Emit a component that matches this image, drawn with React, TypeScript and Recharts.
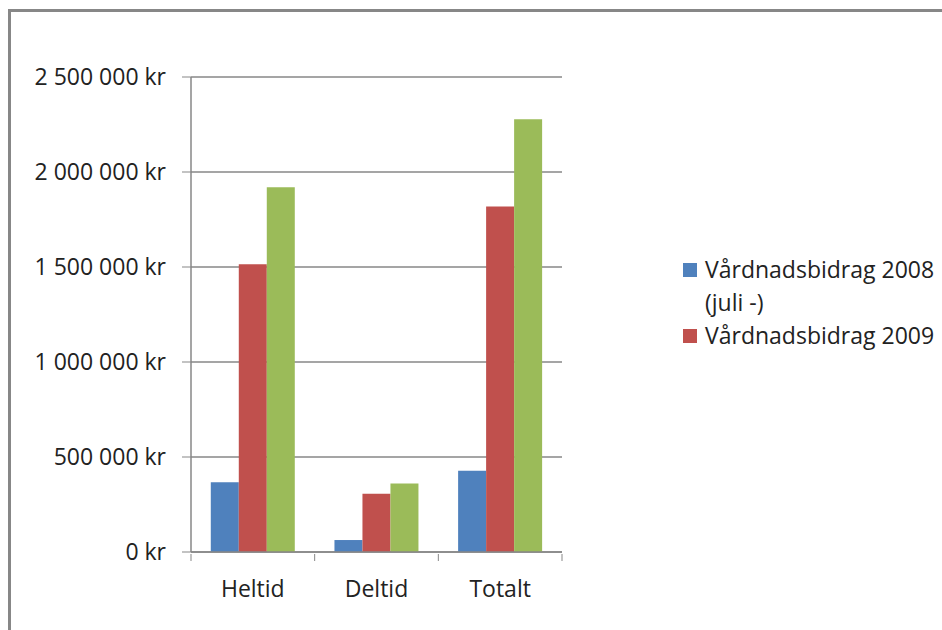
import { Bar, BarChart, CartesianGrid, XAxis, YAxis } from "recharts";

// Vårdnadsbidrag per kategori (kr)
const categories = ["Heltid", "Deltid", "Totalt"];
const bidrag2008 = [367000, 63000, 427000];
const bidrag2009 = [1514000, 306000, 1818000];
const bidrag2010 = [1920000, 360000, 2278000];
const yTicks = [0, 500000, 1000000, 1500000, 2000000, 2500000];

const seriesNames = ["Vårdnadsbidrag 2008 (juli -)", "Vårdnadsbidrag 2009", "Vårdnadsbidrag 2010"];
const seriesColors = ["#4F81BD", "#C0504D", "#9BBB59"];
// only the first two series are visible in the original legend
const legendCount = 2;

const data = categories.map((name, i) => ({
  name,
  s2008: bidrag2008[i],
  s2009: bidrag2009[i],
  s2010: bidrag2010[i],
}));

const FONT = "'Open Sans', sans-serif";
const TEXT = "#222";
const AXIS = "#878787";
const PLOT_W = 942 - 191 - 380;
const BAND = PLOT_W / categories.length;

const formatKr = (v: number) =>
  `${String(v).replace(/\B(?=(\d{3})+(?!\d))/g, " ")} kr`;

const CategoryTick = (props: any) => {
  const { x, y, payload, index } = props;
  const left = x - BAND / 2;
  return (
    <g>
      <line x1={left} y1={y - 8} x2={left} y2={y - 1} stroke={AXIS} />
      {index === categories.length - 1 && (
        <line x1={x + BAND / 2} y1={y - 8} x2={x + BAND / 2} y2={y - 1} stroke={AXIS} />
      )}
      <text x={x} y={y + 35} textAnchor="middle" fontFamily={FONT} fontSize={23} fill={TEXT}>
        {payload.value}
      </text>
    </g>
  );
};

const LegendBox = () => (
  <div
    style={{
      position: "absolute",
      left: 683,
      top: 253,
      fontFamily: FONT,
      fontSize: 23,
      color: TEXT,
      lineHeight: "33px",
    }}
  >
    {seriesNames.slice(0, legendCount).map((name, i) => (
      <div key={name} style={{ display: "flex", alignItems: "flex-start" }}>
        <span
          style={{
            width: 14,
            height: 14,
            marginTop: 10,
            marginRight: 8,
            background: seriesColors[i],
            flexShrink: 0,
          }}
        />
        <span style={{ width: 237 }}>{name}</span>
      </div>
    ))}
  </div>
);

export default function App() {
  return (
    <div style={{ position: "absolute", left: 0, top: 0, width: 942, height: 630, background: "#fff", overflow: "hidden" }}>
      <div
        style={{
          position: "absolute",
          left: 8,
          top: 9,
          width: 960,
          height: 660,
          borderLeft: `3px solid ${AXIS}`,
          borderTop: `3px solid ${AXIS}`,
        }}
      />
      <div style={{ position: "absolute", left: 0, top: 0 }}>
        <BarChart
          width={942}
          height={630}
          data={data}
          margin={{ top: 77, right: 380, bottom: 0, left: 0 }}
          barCategoryGap="16%"
          barGap={0}
        >
          <CartesianGrid vertical={false} stroke={AXIS} strokeWidth={1.5} />
          <XAxis
            dataKey="name"
            height={78}
            axisLine={{ stroke: AXIS, strokeWidth: 1.5 }}
            tickLine={false}
            tickSize={8}
            tick={<CategoryTick />}
            interval={0}
          />
          <YAxis
            width={191}
            domain={[0, 2500000]}
            ticks={yTicks}
            interval={0}
            tickFormatter={formatKr}
            axisLine={{ stroke: AXIS, strokeWidth: 1.5 }}
            tickLine={{ stroke: AXIS }}
            tickSize={9}
            tickMargin={16}
            tick={{ fontFamily: FONT, fontSize: 23, fill: TEXT }}
          />
          <Bar dataKey="s2008" name={seriesNames[0]} fill={seriesColors[0]} isAnimationActive={false} />
          <Bar dataKey="s2009" name={seriesNames[1]} fill={seriesColors[1]} isAnimationActive={false} />
          <Bar dataKey="s2010" name={seriesNames[2]} fill={seriesColors[2]} isAnimationActive={false} />
        </BarChart>
      </div>
      <LegendBox />
    </div>
  );
}
